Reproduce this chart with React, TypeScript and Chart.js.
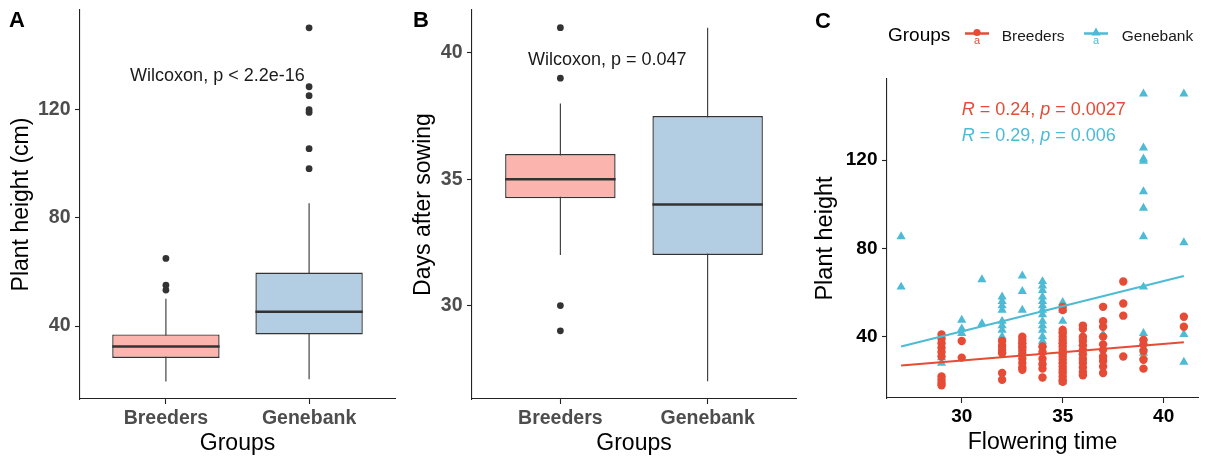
import React, { useEffect, useRef } from 'react';
import { Chart, registerables } from 'chart.js';

Chart.register(...registerables);

const FONT = "'Liberation Sans', Arial, Helvetica, sans-serif";

// ---------- shared ----------
const GROUPS = ['Breeders', 'Genebank'];
const GROUP_FILL = ['#FBB4AE', '#B3CDE3'];
const SERIES_COLOR = ['#E64B35', '#4DBBD5'];

// ---------- Panel A: plant height (cm) ----------
const A_WHISKER_LOW = [19.5, 20.3];
const A_Q1 = [28.2, 36.9];
const A_MEDIAN = [32.4, 45.3];
const A_Q3 = [36.9, 59.8];
const A_WHISKER_HIGH = [50.1, 85.4];
const A_OUTLIERS = [
  [65, 55.1, 53.3],
  [150.3, 128.5, 125.2, 120, 119, 105.6, 98.2],
];
const A_Y_TICKS = [40, 80, 120];
const A_NOTE = 'Wilcoxon, p < 2.2e-16';

// ---------- Panel B: days after sowing ----------
const B_WHISKER_LOW = [32, 27];
const B_Q1 = [34.25, 32];
const B_MEDIAN = [35, 34];
const B_Q3 = [36, 37.5];
const B_WHISKER_HIGH = [38, 41];
const B_OUTLIERS = [[41, 39, 30, 29], []];
const B_Y_TICKS = [30, 35, 40];
const B_NOTE = 'Wilcoxon, p = 0.047';

// ---------- Panel C: flowering time vs plant height ----------
const FLOWERING_TIMES = [27, 29, 30, 31, 32, 33, 34, 35, 36, 37, 38, 39, 41];
const BREEDERS_HEIGHTS = [
  [],
  [41, 39, 37, 35, 33, 31, 22, 20.5, 19, 18],
  [38, 30.5],
  [],
  [38, 36, 34, 32.5, 23.5, 20.5],
  [40, 38.5, 37, 35.5, 34, 32, 30, 28, 26, 25],
  [35.5, 33, 30, 27.5, 25.5, 21.5],
  [53.5, 52, 43, 41.5, 40, 38.5, 37, 35.5, 34, 32.5, 31, 29.5, 28, 26.5, 25, 23.5, 22, 20.5, 19.5],
  [45, 43.5, 40, 38, 36, 34, 32, 30, 28, 26, 24, 22.5],
  [53.5, 47, 44.5, 40, 36.5, 34, 31, 29, 26.5, 23.5],
  [65, 55, 49.5, 31],
  [38.5, 36.5, 33.5, 29.5, 25.5],
  [49, 44.5],
];
const GENEBANK_HEIGHTS = [
  [85.3, 62.5],
  [30.5, 28],
  [47.5, 43.5, 41.5],
  [65.8, 45.9],
  [58, 56, 54, 52, 47, 45, 43, 40, 36, 34],
  [67.5, 60.5, 52, 38, 36, 34],
  [65, 63, 61, 58, 56, 54, 52, 50, 47, 45, 43, 40, 38, 36, 33],
  [55.5, 52, 47, 43, 38, 33, 29, 25, 21, 19.5],
  [40, 37, 33, 30],
  [41, 31],
  [],
  [150, 125.5, 120.5, 119.5, 105.7, 98.2, 85.3, 62.5, 41.5, 39.5, 35, 32.5, 31],
  [150, 82.6, 41, 28.5],
];
const BREEDERS_FIT = [[27, 26.9], [41, 37.4]];
const GENEBANK_FIT = [[27, 35.5], [41, 67.5]];
const COR_R = ['0.24', '0.29'];
const COR_P = ['0.0027', '0.006'];
const COR_LABEL_Y = [142.6, 130.8];
const C_X_TICKS = [30, 35, 40];
const C_Y_TICKS = [40, 80, 120];

// ---------- helpers ----------
const BOX_WIDTH = 0.75;
const INK = '#222222';

function fixedTicks(values: number[]) {
  return (s: any) => {
    s.ticks = values.map((v) => ({ value: v }));
  };
}

function fixedSize(prop: 'width' | 'height', size: number) {
  return (s: any) => {
    s[prop] = size;
    s.paddingTop = 0;
    s.paddingBottom = 0;
    s.paddingLeft = 0;
    s.paddingRight = 0;
  };
}

function axisCommon(tickColor: string, tickSize: number, tickPad: number) {
  return {
    offset: false,
    grid: {
      display: true,
      offset: false,
      drawOnChartArea: false,
      drawTicks: true,
      tickLength: 5,
      tickColor: INK,
      tickWidth: 1.1,
    },
    border: { display: true, color: INK, width: 1.1 },
    ticks: {
      color: tickColor,
      padding: tickPad,
      font: { family: FONT, size: tickSize, weight: 'bold', lineHeight: 1 },
      maxRotation: 0,
      autoSkip: false,
    },
  };
}

type BoxPanel = {
  low: number[];
  q1: number[];
  med: number[];
  q3: number[];
  high: number[];
  out: number[][];
  yMin: number;
  yMax: number;
  yTicks: number[];
  yTitle: string;
  yTitleOffset: number;
  letter: string;
  letterX: number;
  note: string;
  noteX: number;
  noteY: number;
  area: { left: number; right: number; top: number; bottom: number };
  width: number;
  height: number;
};

function boxConfig(p: BoxPanel): any {
  const datasets: any[] = [];
  GROUPS.forEach((_, i) => {
    datasets.push({
      type: 'line',
      data: [
        { x: i + 1, y: p.low[i] },
        { x: i + 1, y: p.high[i] },
      ],
      borderColor: '#333333',
      borderWidth: 1.1,
      pointRadius: 0,
      order: 4,
    });
  });
  datasets.push({
    type: 'bar',
    data: GROUPS.map((_, i) => ({ x: i + 1, y: [p.q1[i], p.q3[i]] })),
    backgroundColor: GROUP_FILL,
    borderColor: '#333333',
    borderWidth: 1.4,
    borderSkipped: false,
    barPercentage: BOX_WIDTH,
    categoryPercentage: 1,
    order: 3,
  });
  GROUPS.forEach((_, i) => {
    datasets.push({
      type: 'line',
      data: [
        { x: i + 1 - BOX_WIDTH / 2, y: p.med[i] },
        { x: i + 1 + BOX_WIDTH / 2, y: p.med[i] },
      ],
      borderColor: '#333333',
      borderWidth: 2.4,
      pointRadius: 0,
      order: 2,
    });
  });
  datasets.push({
    type: 'scatter',
    data: p.out.flatMap((vals, i) => vals.map((v) => ({ x: i + 1, y: v }))),
    backgroundColor: '#333333',
    borderWidth: 0,
    pointRadius: 3.4,
    order: 1,
  });

  const xAxis: any = axisCommon('#4D4D4D', 19.5, 4.5);
  const yAxis: any = axisCommon('#4D4D4D', 19.5, 4.5);

  const annot = {
    id: 'annot' + p.letter,
    afterDraw(chart: any) {
      const ctx = chart.ctx;
      const { x, y } = chart.scales;
      ctx.save();
      ctx.fillStyle = '#1A1A1A';
      ctx.textBaseline = 'middle';
      ctx.textAlign = 'left';
      ctx.font = `18px ${FONT}`;
      ctx.fillText(p.note, x.getPixelForValue(p.noteX), y.getPixelForValue(p.noteY));
      ctx.fillStyle = '#000000';
      ctx.font = `bold 22px ${FONT}`;
      ctx.fillText(p.letter, p.letterX, 21);
      ctx.restore();
    },
  };

  return {
    type: 'scatter',
    data: { datasets },
    options: {
      animation: false,
      responsive: false,
      devicePixelRatio: 1,
      events: [],
      layout: {
        padding: { left: 0, top: p.area.top, right: p.width - p.area.right, bottom: 0 },
      },
      plugins: { legend: { display: false }, tooltip: { enabled: false } },
      scales: {
        x: {
          ...xAxis,
          type: 'linear',
          min: 0.4,
          max: 2.6,
          afterBuildTicks: fixedTicks(GROUPS.map((_, i) => i + 1)),
          afterFit: fixedSize('height', p.height - p.area.bottom),
          ticks: {
            ...xAxis.ticks,
            callback: (v: number) => GROUPS[Math.round(v) - 1],
          },
          title: {
            display: true,
            text: 'Groups',
            color: '#000000',
            font: { family: FONT, size: 23, lineHeight: 1 },
            padding: { top: 0, bottom: 1.5 },
          },
        },
        y: {
          ...yAxis,
          type: 'linear',
          min: p.yMin,
          max: p.yMax,
          afterBuildTicks: fixedTicks(p.yTicks),
          afterFit: fixedSize('width', p.area.left),
          title: {
            display: true,
            text: p.yTitle,
            color: '#000000',
            font: { family: FONT, size: 23, lineHeight: 1 },
            padding: { top: p.yTitleOffset - 11.5, bottom: 0 },
          },
        },
      },
    },
    plugins: [annot],
  };
}

function scatterConfig(width: number, height: number): any {
  const area = { left: 87, right: 398, top: 79, bottom: 398 };
  const fits = [BREEDERS_FIT, GENEBANK_FIT];
  const toPoints = (h: number[][]) =>
    FLOWERING_TIMES.flatMap((ft, i) => h[i].map((v) => ({ x: ft, y: v })));

  const datasets: any[] = [
    {
      type: 'scatter',
      label: GROUPS[1],
      data: toPoints(GENEBANK_HEIGHTS),
      pointStyle: 'triangle',
      pointRadius: 5.3,
      backgroundColor: SERIES_COLOR[1],
      borderWidth: 0,
      order: 4,
    },
    {
      type: 'scatter',
      label: GROUPS[0],
      data: toPoints(BREEDERS_HEIGHTS),
      pointStyle: 'circle',
      pointRadius: 4.2,
      backgroundColor: SERIES_COLOR[0],
      borderWidth: 0,
      order: 3,
    },
    ...fits.map((f, k) => ({
      type: 'line',
      data: f.map(([x, y]) => ({ x, y })),
      borderColor: SERIES_COLOR[k],
      borderWidth: 2,
      pointRadius: 0,
      order: 1,
    })),
  ];

  const xAxis: any = axisCommon('#000000', 19, 4.5);
  const yAxis: any = axisCommon('#000000', 19, 4.5);

  const annot = {
    id: 'annotC',
    afterDraw(chart: any) {
      const ctx = chart.ctx;
      const { x, y } = chart.scales;
      ctx.save();
      ctx.textBaseline = 'middle';
      ctx.textAlign = 'left';
      // correlation labels
      COR_R.forEach((r, k) => {
        const parts = [
          { t: 'R', it: true },
          { t: ` = ${r}, `, it: false },
          { t: 'p', it: true },
          { t: ` = ${COR_P[k]}`, it: false },
        ];
        let cx = x.getPixelForValue(30);
        const cy = y.getPixelForValue(COR_LABEL_Y[k]);
        ctx.fillStyle = SERIES_COLOR[k];
        parts.forEach((pt) => {
          ctx.font = `${pt.it ? 'italic ' : ''}18px ${FONT}`;
          ctx.fillText(pt.t, cx, cy);
          cx += ctx.measureText(pt.t).width;
        });
      });
      // legend
      ctx.fillStyle = '#000000';
      ctx.font = `19px ${FONT}`;
      ctx.fillText('Groups', 88, 36);
      const symX = [177, 296];
      const textX = [201.7, 321.7];
      GROUPS.forEach((g, k) => {
        const cx = symX[k];
        const cy = 33.5;
        ctx.strokeStyle = SERIES_COLOR[k];
        ctx.lineWidth = 2.5;
        ctx.beginPath();
        ctx.moveTo(cx - 12, cy);
        ctx.lineTo(cx + 12, cy);
        ctx.stroke();
        ctx.fillStyle = SERIES_COLOR[k];
        ctx.beginPath();
        if (k === 0) {
          ctx.arc(cx, cy - 1, 3.6, 0, Math.PI * 2);
        } else {
          ctx.moveTo(cx, cy - 6);
          ctx.lineTo(cx + 4.6, cy + 2);
          ctx.lineTo(cx - 4.6, cy + 2);
          ctx.closePath();
        }
        ctx.fill();
        ctx.textAlign = 'center';
        ctx.font = `11px ${FONT}`;
        ctx.fillText('a', cx, cy + 7);
        ctx.textAlign = 'left';
        ctx.fillStyle = '#1A1A1A';
        ctx.font = `15.5px ${FONT}`;
        ctx.fillText(g, textX[k], 36.3);
      });
      ctx.fillStyle = '#000000';
      ctx.font = `bold 22px ${FONT}`;
      ctx.fillText('C', 15, 21.5);
      ctx.restore();
    },
  };

  return {
    type: 'scatter',
    data: { datasets },
    options: {
      animation: false,
      responsive: false,
      devicePixelRatio: 1,
      events: [],
      layout: { padding: { left: 0, top: area.top, right: width - area.right, bottom: 0 } },
      plugins: { legend: { display: false }, tooltip: { enabled: false } },
      scales: {
        x: {
          ...xAxis,
          type: 'linear',
          min: 26.3,
          max: 41.7,
          afterBuildTicks: fixedTicks(C_X_TICKS),
          afterFit: fixedSize('height', height - area.bottom),
          title: {
            display: true,
            text: 'Flowering time',
            color: '#000000',
            font: { family: FONT, size: 23, lineHeight: 1 },
            padding: { top: 0, bottom: 3 },
          },
        },
        y: {
          ...yAxis,
          type: 'linear',
          min: 12.2,
          max: 156.7,
          afterBuildTicks: fixedTicks(C_Y_TICKS),
          afterFit: fixedSize('width', area.left),
          title: {
            display: true,
            text: 'Plant height',
            color: '#000000',
            font: { family: FONT, size: 23.5, lineHeight: 1 },
            padding: { top: 25.8 - 11.75, bottom: 0 },
          },
        },
      },
    },
    plugins: [annot],
  };
}

function Panel({ left, width, height, make }: { left: number; width: number; height: number; make: () => any }) {
  const ref = useRef<HTMLCanvasElement | null>(null);
  useEffect(() => {
    if (!ref.current) return;
    const chart = new Chart(ref.current, make());
    return () => chart.destroy();
  }, []);
  return (
    <canvas
      ref={ref}
      width={width}
      height={height}
      style={{ position: 'absolute', left, top: 0, width, height }}
    />
  );
}

export default function App() {
  const H = 457;
  return (
    <div style={{ position: 'fixed', left: 0, top: 0, width: 1206, height: H, background: '#ffffff' }}>
      <Panel
        left={0}
        width={400}
        height={H}
        make={() =>
          boxConfig({
            low: A_WHISKER_LOW,
            q1: A_Q1,
            med: A_MEDIAN,
            q3: A_Q3,
            high: A_WHISKER_HIGH,
            out: A_OUTLIERS,
            yMin: 13.0,
            yMax: 156.9,
            yTicks: A_Y_TICKS,
            yTitle: 'Plant height (cm)',
            yTitleOffset: 21.3,
            letter: 'A',
            letterX: 9,
            note: A_NOTE,
            noteX: 0.75,
            noteY: 132.4,
            area: { left: 80, right: 395, top: 10, bottom: 399 },
            width: 400,
            height: H,
          })
        }
      />
      <Panel
        left={400}
        width={400}
        height={H}
        make={() =>
          boxConfig({
            low: B_WHISKER_LOW,
            q1: B_Q1,
            med: B_MEDIAN,
            q3: B_Q3,
            high: B_WHISKER_HIGH,
            out: B_OUTLIERS,
            yMin: 26.3,
            yMax: 41.7,
            yTicks: B_Y_TICKS,
            yTitle: 'Days after sowing',
            yTitleOffset: 23.3,
            letter: 'B',
            letterX: 13,
            note: B_NOTE,
            noteX: 0.78,
            noteY: 39.72,
            area: { left: 72, right: 397, top: 10, bottom: 399 },
            width: 400,
            height: H,
          })
        }
      />
      <Panel left={800} width={406} height={H} make={() => scatterConfig(406, H)} />
    </div>
  );
}
